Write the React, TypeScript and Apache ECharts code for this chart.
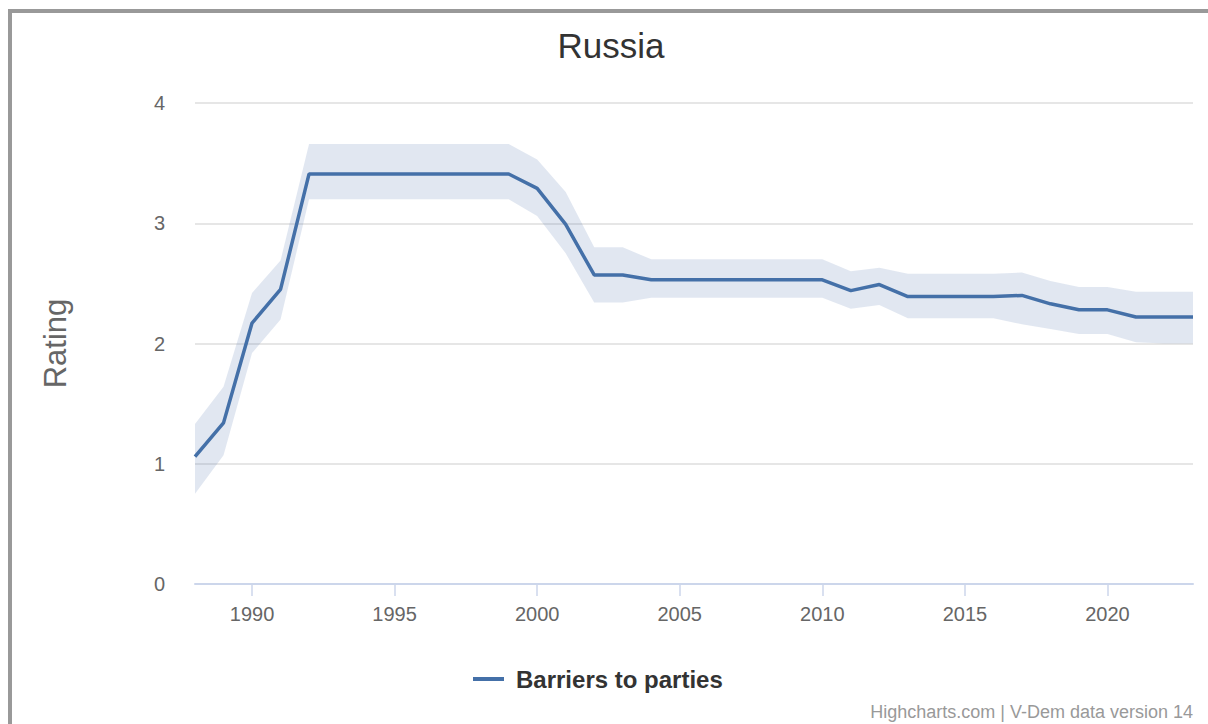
import React, { useEffect, useRef } from "react";
import * as echarts from "echarts";

const years = [
  1988, 1989, 1990, 1991, 1992, 1993, 1994, 1995, 1996, 1997, 1998, 1999,
  2000, 2001, 2002, 2003, 2004, 2005, 2006, 2007, 2008, 2009, 2010, 2011,
  2012, 2013, 2014, 2015, 2016, 2017, 2018, 2019, 2020, 2021, 2022, 2023,
];
const rating = [
  1.06, 1.34, 2.17, 2.45, 3.41, 3.41, 3.41, 3.41, 3.41, 3.41, 3.41, 3.41,
  3.29, 2.99, 2.57, 2.57, 2.53, 2.53, 2.53, 2.53, 2.53, 2.53, 2.53, 2.44,
  2.49, 2.39, 2.39, 2.39, 2.39, 2.40, 2.33, 2.28, 2.28, 2.22, 2.22, 2.22,
];
const upper = [
  1.33, 1.64, 2.42, 2.69, 3.66, 3.66, 3.66, 3.66, 3.66, 3.66, 3.66, 3.66,
  3.53, 3.26, 2.80, 2.80, 2.70, 2.70, 2.70, 2.70, 2.70, 2.70, 2.70, 2.60,
  2.63, 2.58, 2.58, 2.58, 2.58, 2.59, 2.52, 2.47, 2.47, 2.43, 2.43, 2.43,
];
const lower = [
  0.75, 1.07, 1.92, 2.20, 3.20, 3.20, 3.20, 3.20, 3.20, 3.20, 3.20, 3.20,
  3.06, 2.75, 2.34, 2.34, 2.38, 2.38, 2.38, 2.38, 2.38, 2.38, 2.38, 2.29,
  2.32, 2.21, 2.21, 2.21, 2.21, 2.16, 2.12, 2.08, 2.08, 2.01, 2.00, 2.00,
];
const xTicks = [1990, 1995, 2000, 2005, 2010, 2015, 2020];
const seriesName = "Barriers to parties";
const titleText = "Russia";
const creditText = "Highcharts.com | V-Dem data version 14";

const FONT = '"Liberation Sans", Arial, Helvetica, sans-serif';
const LINE_COLOR = "#4470a8";
const BAND_COLOR = "rgba(69,105,167,0.16)";

export default function App() {
  const ref = useRef<HTMLDivElement>(null);
  useEffect(() => {
    if (!ref.current) return;
    const chart = echarts.init(ref.current, null, { renderer: "svg" });
    const bandData = years.map((y, i) => [y, lower[i], upper[i]]);
    const lineData = years.map((y, i) => [y, rating[i]]);
    chart.setOption({
      animation: false,
      backgroundColor: "#ffffff",
      textStyle: { fontFamily: FONT },
      grid: { left: 195, right: 15, top: 103, bottom: 140, containLabel: false },
      xAxis: {
        type: "value",
        min: 1988,
        max: 2023,
        axisLine: { show: true, lineStyle: { color: "#ccd6eb", width: 2 } },
        axisTick: {
          show: true,
          length: 12,
          lineStyle: { color: "#ccd6eb", width: 1.5 },
          customValues: xTicks,
        },
        axisLabel: {
          color: "#666666",
          fontSize: 20,
          fontFamily: FONT,
          margin: 20,
          customValues: xTicks,
          formatter: (v: number) => String(v),
        },
        splitLine: { show: false },
      },
      yAxis: {
        type: "value",
        min: 0,
        max: 4,
        interval: 1,
        name: "Rating",
        nameLocation: "middle",
        nameRotate: 90,
        nameGap: 124,
        nameTextStyle: { color: "#666666", fontSize: 31, fontFamily: FONT },
        axisLine: { show: false },
        axisTick: { show: false },
        axisLabel: { color: "#666666", fontSize: 20, fontFamily: FONT, margin: 30 },
        splitLine: { show: true, lineStyle: { color: "#e6e6e6", width: 2 } },
      },
      legend: {
        data: [seriesName],
        left: 468,
        top: 662,
        icon: "rect",
        itemWidth: 31,
        itemHeight: 4,
        textStyle: {
          color: "#333333",
          fontSize: 24,
          fontWeight: "bold",
          fontFamily: FONT,
          padding: [0, 0, 0, 7],
        },
        selectedMode: false,
      },
      series: [
        {
          name: "band",
          type: "custom",
          data: bandData,
          silent: true,
          z: 1,
          encode: { x: 0, y: [1, 2] },
          renderItem: (params: any, api: any) => {
            if (params.dataIndex !== 0) return null;
            const top = years.map((y, i) => api.coord([y, upper[i]]));
            const bottom = years
              .map((y, i) => api.coord([y, lower[i]]))
              .reverse();
            return {
              type: "polygon",
              shape: { points: top.concat(bottom) },
              style: { fill: BAND_COLOR },
            };
          },
        },
        {
          name: seriesName,
          type: "line",
          data: lineData,
          symbol: "none",
          color: LINE_COLOR,
          lineStyle: { color: LINE_COLOR, width: 3.5 },
          z: 5,
        },
      ],
      graphic: [
        { type: "rect", shape: { x: 8, y: 9, width: 4, height: 715 }, style: { fill: "#999999" } },
        { type: "rect", shape: { x: 8, y: 9, width: 1200, height: 4 }, style: { fill: "#999999" } },
        {
          type: "text",
          x: 611,
          y: 45,
          style: {
            text: titleText,
            fill: "#333333",
            fontSize: 35,
            fontFamily: FONT,
            textAlign: "center",
            textVerticalAlign: "middle",
          },
        },
        {
          type: "text",
          x: 1193,
          y: 712,
          style: {
            text: creditText,
            fill: "#999999",
            fontSize: 18,
            fontFamily: FONT,
            textAlign: "right",
            textVerticalAlign: "middle",
          },
        },
      ],
    });
    return () => chart.dispose();
  }, []);
  return (
    <div
      ref={ref}
      style={{ position: "fixed", left: 0, top: 0, width: 1208, height: 724 }}
    />
  );
}
